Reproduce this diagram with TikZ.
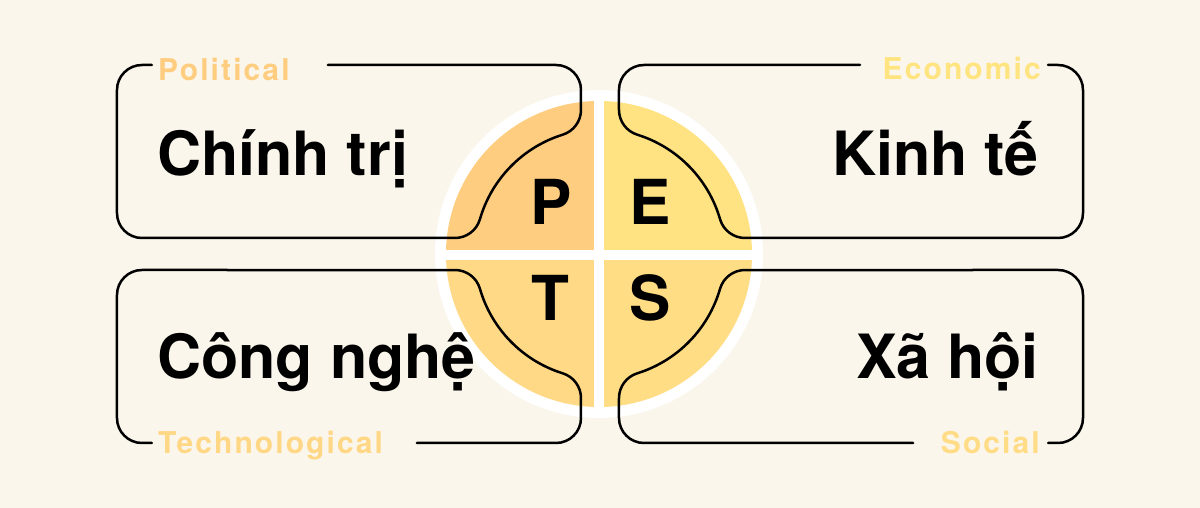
\documentclass[tikz,border=0pt]{standalone}
\usepackage{fontspec}
\setmainfont{TeX Gyre Heros}
\newfontfamily\lblfont[LetterSpace=7]{TeX Gyre Heros}
\definecolor{bg}{HTML}{FBF6EC}
\definecolor{cP}{HTML}{FFCD80}
\definecolor{cE}{HTML}{FFE382}
\definecolor{cT}{HTML}{FFD985}
\definecolor{cS}{HTML}{FFDD85}
\definecolor{lP}{HTML}{FFCD80}
\definecolor{lE}{HTML}{FFE480}
\definecolor{lT}{HTML}{FFD785}
\definecolor{lS}{HTML}{FFDC85}
\newcommand{\pestbox}[1]{%
  \draw[boxline] (#1,189) -- (-44,189) arc[start angle=90,end angle=0,radius=25]
    -- (-19,144.14) arc[start angle=0,end angle=-72.66,radius=26]
    arc[start angle=107.34,end angle=163.85,radius=125]
    arc[start angle=-16.15,end angle=-90,radius=26]
    -- (-458,16) arc[start angle=270,end angle=180,radius=25]
    -- (-483,164) arc[start angle=180,end angle=90,radius=25] -- (-448,189);}
\begin{document}
\begin{tikzpicture}[x=1pt,y=1pt,
  boxline/.style={line width=2.5pt, black, line cap=round, line join=round},
  maintext/.style={font=\fontsize{61}{61}\selectfont\bfseries, inner sep=0pt},
  lbltext/.style={font=\lblfont\fontsize{30}{30}\selectfont\bfseries, inner sep=0pt},
  letter/.style={font=\fontsize{62}{62}\selectfont\bfseries, inner sep=0pt, anchor=base}]
\useasboundingbox (-600,-254) rectangle (600,254);
\fill[bg] (-600,-254) rectangle (600,254);
% circle
\fill[white] (-1,0) circle[radius=164];
\fill[cP] (-1,0) -- (-1,153) arc[start angle=90,end angle=180,radius=153] -- cycle;
\fill[cE] (-1,0) -- (152,0) arc[start angle=0,end angle=90,radius=153] -- cycle;
\fill[cT] (-1,0) -- (-154,0) arc[start angle=180,end angle=270,radius=153] -- cycle;
\fill[cS] (-1,0) -- (-1,-153) arc[start angle=270,end angle=360,radius=153] -- cycle;
\draw[white,line width=10pt] (-1,-158) -- (-1,158);
\draw[white,line width=10pt] (-158,-1) -- (158,-1);
% letters
\node[letter] (P) at (-49,29) {P};
\node[letter] (E) at (50,29) {E};
\node[letter] (T) at (-50,-67) {T};
\node[letter] (S) at (50,-67) {S};
% boxes
\pestbox{-272}
\begin{scope}[xscale=-1]\pestbox{-260}\end{scope}
\begin{scope}[yscale=-1]\pestbox{-183}\end{scope}
\begin{scope}[xscale=-1,yscale=-1]\pestbox{-313}\end{scope}
% texts
\node[maintext,anchor=base west] (ct) at (-443,78) {Chính trị};
\node[maintext,anchor=base east] (kt) at (439,78) {Kinh tế};
\node[maintext,anchor=base west] (cn) at (-443,-125) {Công nghệ};
\node[maintext,anchor=base east] (xh) at (439,-125) {Xã hội};
\node[lbltext,anchor=base west,text=lP] (pol) at (-442,173) {Political};
\node[lbltext,anchor=base east,text=lE] (eco) at (441,174) {Economic};
\node[lbltext,anchor=base west,text=lT] (tec) at (-442,-200) {Technological};
\node[lbltext,anchor=base east,text=lS] (soc) at (440,-200) {Social};
\end{tikzpicture}
\end{document}
